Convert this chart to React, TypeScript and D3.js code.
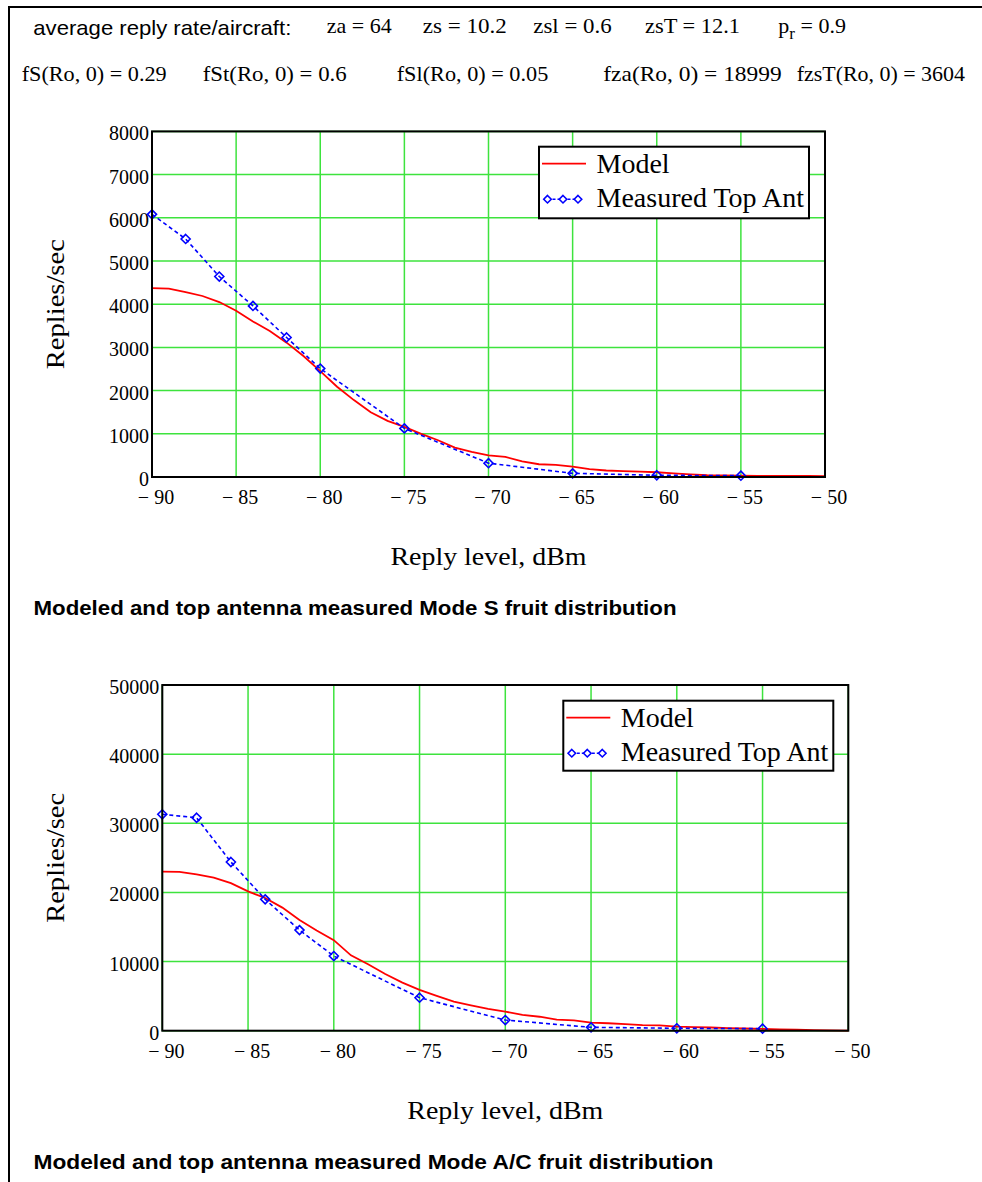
import React from 'react';
import * as d3 from 'd3';

// Reply level grid (dBm) used by the model curves
const levels = [
  -90, -89, -88, -87, -86, -85, -84, -83, -82, -81, -80, -79, -78, -77, -76, -75, -74, -73, -72, -71,
  -70, -69, -68, -67, -66, -65, -64, -63, -62, -61, -60, -59, -58, -57, -56, -55, -54, -53, -52, -51, -50,
];

// Mode S fruit, modeled (replies/sec)
const modeSModel = [
  4370, 4360, 4280, 4190, 4050, 3850, 3600, 3380, 3110, 2800, 2450, 2090, 1780, 1500, 1300, 1160, 1000, 850, 680, 580,
  500, 465, 360, 295, 280, 240, 180, 150, 135, 125, 110, 85, 60, 40, 35, 30, 28, 25, 24, 23, 22,
];

// Measured points (top antenna)
const measuredLevels = [-90, -88, -86, -84, -82, -80, -75, -70, -65, -60, -55];
const modeSMeasured = [6080, 5510, 4640, 3960, 3230, 2510, 1125, 320, 85, 40, 30];

// Mode A/C fruit, modeled (replies/sec)
const modeACModel = [
  23000, 22980, 22600, 22150, 21350, 20150, 19200, 17800, 16000, 14500, 13100, 10900, 9600, 8200, 6950, 5900, 5050, 4200, 3650, 3150,
  2750, 2300, 2020, 1600, 1500, 1160, 1080, 950, 820, 780, 600, 520, 460, 380, 320, 260, 200, 140, 90, 40, 0,
];
const modeACMeasured = [31300, 30800, 24400, 19000, 14550, 10800, 4770, 1540, 490, 350, 290];

const xTicks = [-90, -85, -80, -75, -70, -65, -60, -55, -50];
const modeSYTicks = [0, 1000, 2000, 3000, 4000, 5000, 6000, 7000, 8000];
const modeACYTicks = [0, 10000, 20000, 30000, 40000, 50000];

const seriesNames = ['Model', 'Measured Top Ant'];

const SERIF = '"Liberation Serif", "Times New Roman", serif';
const SANS = '"Liberation Sans", Arial, sans-serif';
const GRID = '#3de33d';
const RED = '#ff0000';
const BLUE = '#0000ff';

type Box = { left: number; right: number; top: number; bottom: number };

function fmtX(v: number) {
  return v < 0 ? `\u2212 ${-v}` : `${v}`;
}

function Chart(props: {
  box: Box;
  yTicks: number[];
  model: number[];
  measured: number[];
  legend: { x: number; y: number; w: number; h: number };
  caption: string;
  captionW: number;
}) {
  const { box, yTicks, model, measured, legend, caption, captionW } = props;
  const x = d3.scaleLinear().domain([-90, -50]).range([box.left, box.right]);
  const y = d3.scaleLinear().domain([0, yTicks[yTicks.length - 1]]).range([box.bottom, box.top]);

  const line = d3
    .line<[number, number]>()
    .x((d) => x(d[0]))
    .y((d) => y(d[1]));

  const modelPath = line(levels.map((l, i) => [l, model[i]]));
  const measPts = measuredLevels.map((l, i) => [l, measured[i]] as [number, number]);
  const measPath = line(measPts);
  const diamond = d3.symbol(d3.symbolDiamond2, 52)();
  const smallDiamond = d3.symbol(d3.symbolDiamond2, 36)();

  const cx = (box.left + box.right) / 2;
  const cy = (box.top + box.bottom) / 2;

  return (
    <g>
      {/* grid */}
      {xTicks.map((t) => (
        <line key={'gx' + t} x1={x(t)} x2={x(t)} y1={box.top} y2={box.bottom} stroke={GRID} strokeWidth={1.5} />
      ))}
      {yTicks.map((t) => (
        <line key={'gy' + t} x1={box.left} x2={box.right} y1={y(t)} y2={y(t)} stroke={GRID} strokeWidth={1.5} />
      ))}

      {/* series */}
      <path d={modelPath ?? ''} fill="none" stroke={RED} strokeWidth={1.8} />
      <path d={measPath ?? ''} fill="none" stroke={BLUE} strokeWidth={1.6} strokeDasharray="4 3" />
      {measPts.map((p, i) => (
        <path key={'m' + i} d={diamond ?? ''} transform={`translate(${x(p[0])},${y(p[1])})`} fill="none" stroke={BLUE} strokeWidth={1.6} />
      ))}

      {/* frame */}
      <rect x={box.left} y={box.top} width={box.right - box.left} height={box.bottom - box.top} fill="none" stroke="#000" strokeWidth={2} />

      {/* y tick labels */}
      {yTicks.map((t) => (
        <text key={'ty' + t} x={box.left - 3} y={y(t) + 9} textAnchor="end" fontFamily={SERIF} fontSize={20} fill="#000">
          {t}
        </text>
      ))}
      {/* x tick labels */}
      {xTicks.map((t) => (
        <text key={'tx' + t} x={x(t) + 4} y={box.bottom + 27} textAnchor="middle" fontFamily={SERIF} fontSize={20} fill="#000">
          {fmtX(t)}
        </text>
      ))}

      {/* legend */}
      <rect x={legend.x} y={legend.y} width={legend.w} height={legend.h} fill="#fff" stroke="#000" strokeWidth={2} />
      <line x1={legend.x + 3} x2={legend.x + 47} y1={legend.y + 17} y2={legend.y + 17} stroke={RED} strokeWidth={1.8} />
      <text x={legend.x + 57.5} y={legend.y + 26} fontFamily={SERIF} fontSize={28} fill="#000">
        {seriesNames[0]}
      </text>
      <line x1={legend.x + 8.5} x2={legend.x + 39} y1={legend.y + 52.5} y2={legend.y + 52.5} stroke={BLUE} strokeWidth={1.6} strokeDasharray="3 2" />
      {[8.5, 24, 39].map((dx) => (
        <path key={'ld' + dx} d={smallDiamond ?? ''} transform={`translate(${legend.x + dx},${legend.y + 52.5})`} fill="#fff" stroke={BLUE} strokeWidth={1.6} />
      ))}
      <text x={legend.x + 57.5} y={legend.y + 60} fontFamily={SERIF} fontSize={28} fill="#000">
        {seriesNames[1]}
      </text>

      {/* axis titles */}
      <text
        transform={`translate(64,${cy}) rotate(-90)`}
        textAnchor="middle"
        fontFamily={SERIF}
        fontSize={25}
        textLength={130}
        lengthAdjust="spacingAndGlyphs"
        fill="#000"
      >
        Replies/sec
      </text>
      <text x={cx} y={box.bottom + 88} textAnchor="middle" fontFamily={SERIF} fontSize={26} textLength={196} lengthAdjust="spacingAndGlyphs" fill="#000">
        Reply level, dBm
      </text>

      {/* caption */}
      <text x={33.5} y={box.bottom + 138} fontFamily={SANS} fontWeight="bold" fontSize={20} textLength={captionW} lengthAdjust="spacingAndGlyphs" fill="#000">
        {caption}
      </text>
    </g>
  );
}

// Header values: [text, x, width]
const headerRow1: [string, number, number][] = [
  ['za = 64', 326.7, 65],
  ['zs = 10.2', 422.7, 84],
  ['zsl = 0.6', 533.3, 78.4],
  ['zsT = 12.1', 645, 95],
];
const headerRow2: [string, number, number][] = [
  ['fS(Ro, 0) = 0.29', 21.7, 145],
  ['fSt(Ro, 0) = 0.6', 202.7, 144],
  ['fSl(Ro, 0) = 0.05', 396.7, 151.6],
  ['fza(Ro, 0) = 18999', 603.3, 178.4],
  ['fzsT(Ro, 0) = 3604', 796.7, 168.3],
];

export default function App() {
  return (
    <svg width={982} height={1182} style={{ position: 'absolute', left: 0, top: 0, background: '#fff' }}>
      <rect x={0} y={0} width={982} height={1182} fill="#fff" />
      {/* worksheet region frame */}
      <path d="M9,1182 V7 H982" fill="none" stroke="#000" strokeWidth={2} />

      <text x={33.3} y={35} fontFamily={SANS} fontSize={21} textLength={258} lengthAdjust="spacingAndGlyphs" fill="#000">
        average reply rate/aircraft:
      </text>
      {headerRow1.map(([t, x, w]) => (
        <text key={t} x={x} y={33} fontFamily={SERIF} fontSize={22} textLength={w} lengthAdjust="spacingAndGlyphs" fill="#000">
          {t}
        </text>
      ))}
      <text x={778.3} y={33} fontFamily={SERIF} fontSize={22} fill="#000">
        p
        <tspan fontSize={17} dy={6}>r</tspan>
        <tspan dy={-6}> = 0.9</tspan>
      </text>
      {headerRow2.map(([t, x, w]) => (
        <text key={t} x={x} y={81} fontFamily={SERIF} fontSize={22} textLength={w} lengthAdjust="spacingAndGlyphs" fill="#000">
          {t}
        </text>
      ))}

      <Chart
        box={{ left: 152, right: 825, top: 131.4, bottom: 477 }}
        yTicks={modeSYTicks}
        model={modeSModel}
        measured={modeSMeasured}
        legend={{ x: 539, y: 146.7, w: 270, h: 71.6 }}
        caption="Modeled and top antenna measured Mode S fruit distribution"
        captionW={643}
      />
      <Chart
        box={{ left: 162.3, right: 848.3, top: 685, bottom: 1030.7 }}
        yTicks={modeACYTicks}
        model={modeACModel}
        measured={modeACMeasured}
        legend={{ x: 563.3, y: 700.7, w: 270, h: 70 }}
        caption="Modeled and top antenna measured Mode A/C fruit distribution"
        captionW={680}
      />
    </svg>
  );
}
